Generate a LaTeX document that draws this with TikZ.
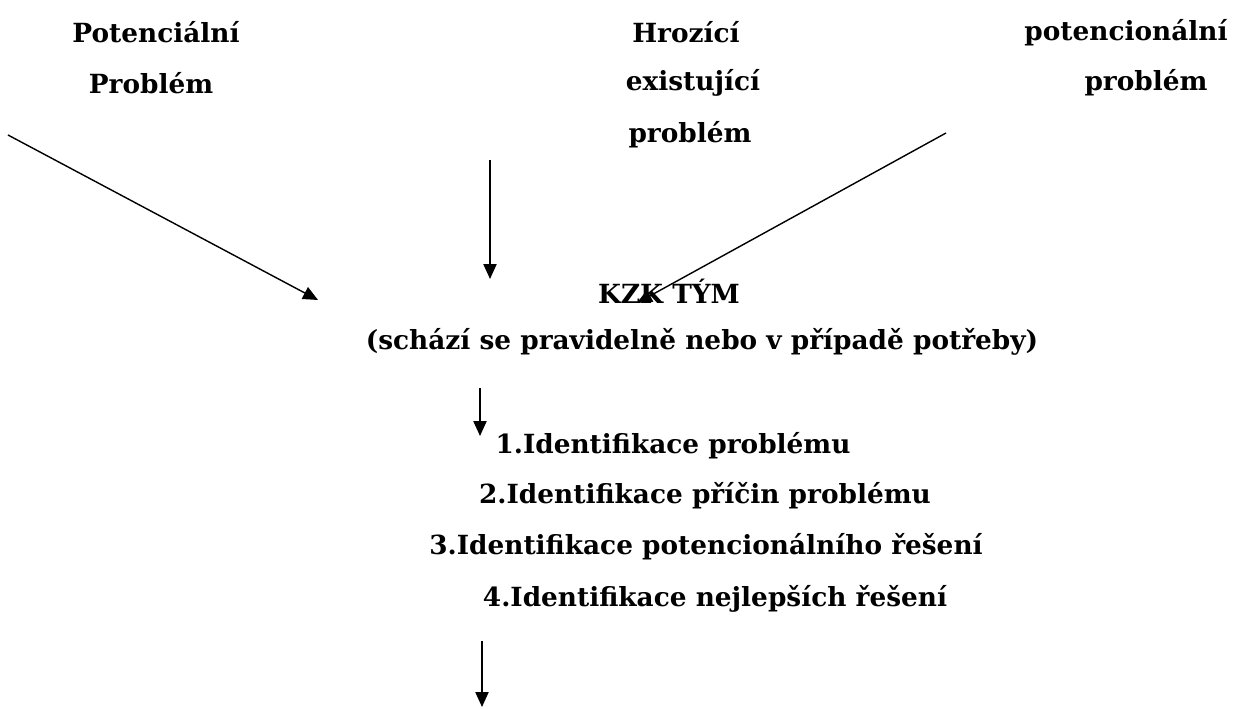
\documentclass[tikz,border=0pt]{standalone}
\usepackage{fontspec}
\setmainfont{DejaVu Serif}
\usetikzlibrary{arrows.meta}

\begin{document}
\begin{tikzpicture}[x=0.02cm, y=-0.02cm,
  lbl/.style={font=\fontsize{15}{18}\selectfont\bfseries, inner sep=0pt, anchor=center},
  arr/.style={-{Triangle[width=7.5pt,length=8.5pt]}, line width=0.8pt}]
  \useasboundingbox (0,0) rectangle (1240,709);
  % top labels
  \node[lbl] (pot1) at (156,32) {Potenciální};
  \node[lbl] (pot2) at (151,83) {Problém};
  \node[lbl] (hro1) at (686,32) {Hrozící};
  \node[lbl] (hro2) at (693,83) {existující};
  \node[lbl] (hro3) at (690,135) {problém};
  \node[lbl] (pcn1) at (1126,33) {potencionální};
  \node[lbl] (pcn2) at (1146,83) {problém};
  % team
  \node[lbl] (kzk) at (669,291) {KZK TÝM};
  \node[lbl] (sch) at (702,342) {(schází se pravidelně nebo v případě potřeby)};
  % steps
  \node[lbl] (st1) at (673,446) {1.Identifikace problému};
  \node[lbl] (st2) at (705,496) {2.Identifikace příčin problému};
  \node[lbl] (st3) at (706,547) {3.Identifikace potencionálního řešení};
  \node[lbl] (st4) at (715,599) {4.Identifikace nejlepších řešení};
  % arrow ends
  \coordinate (a1s) at (8,135);
  \coordinate (a1e) at (318,300);
  \coordinate (a2s) at (490,160);
  \coordinate (a2e) at (490,279);
  \coordinate (a3s) at (946,133);
  \coordinate (a3e) at (637,303);
  \coordinate (a4s) at (480,388);
  \coordinate (a4e) at (480,436);
  \coordinate (a5s) at (482,641);
  \coordinate (a5e) at (482,707);
  \draw[arr] (a1s) -- (a1e);
  \draw[arr] (a2s) -- (a2e);
  \draw[arr] (a3s) -- (a3e);
  \draw[arr] (a4s) -- (a4e);
  \draw[arr] (a5s) -- (a5e);
\end{tikzpicture}
\end{document}
